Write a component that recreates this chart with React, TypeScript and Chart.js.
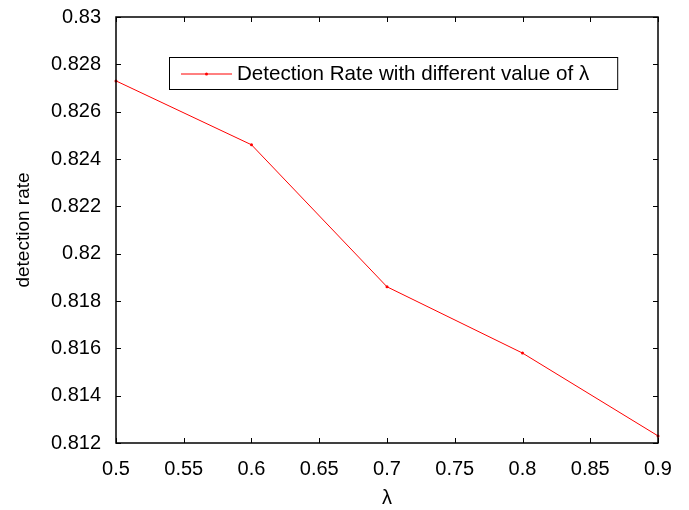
import React, { useEffect, useRef } from "react";
import { Chart, registerables } from "chart.js";

Chart.register(...registerables);

const lambdaValues = [0.5, 0.6, 0.7, 0.8, 0.9];
const detectionRates = [0.8273, 0.8246, 0.8186, 0.8158, 0.8123];
const seriesLabel = "Detection Rate with different value of λ";
const yTitle = "detection rate";
const xTitle = "λ";

const FONT = "'Liberation Sans', Arial, sans-serif";

const framePlugin = {
  id: "framePlugin",
  afterDraw(chart: any) {
    const { ctx, chartArea } = chart;
    const { left, right, top, bottom } = chartArea;
    const xs = chart.scales.x;
    const ys = chart.scales.y;
    ctx.save();
    ctx.strokeStyle = "#000";
    ctx.lineWidth = 1.5;
    ctx.strokeRect(left, top, right - left, bottom - top);
    ctx.lineWidth = 1;
    const tl = 5;
    xs.ticks.forEach((t: any) => {
      const px = Math.round(xs.getPixelForValue(t.value)) + 0.5;
      ctx.beginPath();
      ctx.moveTo(px, bottom);
      ctx.lineTo(px, bottom - tl);
      ctx.moveTo(px, top);
      ctx.lineTo(px, top + tl);
      ctx.stroke();
    });
    ys.ticks.forEach((t: any) => {
      const py = Math.round(ys.getPixelForValue(t.value)) + 0.5;
      ctx.beginPath();
      ctx.moveTo(left, py);
      ctx.lineTo(left + tl, py);
      ctx.moveTo(right, py);
      ctx.lineTo(right - tl, py);
      ctx.stroke();
    });
    // legend box
    const bx = left + 53;
    const by = top + 40;
    ctx.font = `20.6px ${FONT}`;
    const tw = ctx.measureText(seriesLabel).width;
    const bw = 68 + tw + 28;
    const bh = 32;
    ctx.fillStyle = "#fff";
    ctx.fillRect(bx, by, bw, bh);
    ctx.strokeStyle = "#000";
    ctx.lineWidth = 1;
    ctx.strokeRect(bx + 0.5, by + 0.5, bw, bh);
    ctx.strokeStyle = "#ff0000";
    ctx.beginPath();
    ctx.moveTo(bx + 12, by + 17);
    ctx.lineTo(bx + 63, by + 17);
    ctx.stroke();
    ctx.fillStyle = "#ff0000";
    ctx.beginPath();
    ctx.arc(bx + 37.5, by + 17, 1.5, 0, Math.PI * 2);
    ctx.fill();
    ctx.fillStyle = "#000";
    ctx.textBaseline = "middle";
    ctx.textAlign = "left";
    ctx.fillText(seriesLabel, bx + 68, by + 17);
    ctx.restore();
  },
};

export default function App() {
  const ref = useRef<HTMLCanvasElement | null>(null);
  useEffect(() => {
    if (!ref.current) return;
    const chart = new Chart(ref.current, {
      type: "line",
      data: {
        datasets: [
          {
            label: seriesLabel,
            data: lambdaValues.map((x, i) => ({ x, y: detectionRates[i] })),
            borderColor: "#ff0000",
            backgroundColor: "#ff0000",
            borderWidth: 1,
            pointRadius: 1.5,
            pointBorderWidth: 0,
            tension: 0,
            clip: false,
          },
        ],
      },
      options: {
        animation: false,
        responsive: false,
        layout: { padding: { top: 0, right: 31, left: 0, bottom: 0 } },
        plugins: { legend: { display: false }, tooltip: { enabled: false } },
        scales: {
          x: {
            type: "linear",
            min: 0.5,
            max: 0.9,
            grid: { display: false, drawTicks: false },
            border: { display: false },
            ticks: {
              stepSize: 0.05,
              color: "#000",
              font: { family: FONT, size: 20 },
              padding: 14,
              maxRotation: 0,
              callback: (v: any) => String(Number(Number(v).toFixed(2))),
            },
            title: {
              display: true,
              text: xTitle,
              color: "#000",
              font: { family: FONT, size: 20 },
              padding: { top: 4, bottom: 0 },
            },
            afterFit: (s: any) => {
              s.height = 67;
              s.paddingLeft = 0;
              s.paddingRight = 0;
            },
          },
          y: {
            min: 0.812,
            max: 0.83,
            grid: { display: false, drawTicks: false },
            border: { display: false },
            ticks: {
              stepSize: 0.002,
              color: "#000",
              font: { family: FONT, size: 20 },
              padding: 15,
              callback: (v: any) => String(Number(Number(v).toFixed(3))),
            },
            title: {
              display: true,
              text: yTitle,
              color: "#000",
              font: { family: FONT, size: 19 },
              padding: { top: 12, bottom: 0 },
            },
            afterFit: (s: any) => {
              s.width = 116;
              s.paddingTop = 17;
              s.paddingBottom = 0;
            },
          },
        },
      },
      plugins: [framePlugin],
    });
    return () => chart.destroy();
  }, []);
  return (
    <div style={{ position: "fixed", left: 0, top: 0, width: 689, height: 510, background: "#fff" }}>
      <canvas ref={ref} width={689} height={510} />
    </div>
  );
}
